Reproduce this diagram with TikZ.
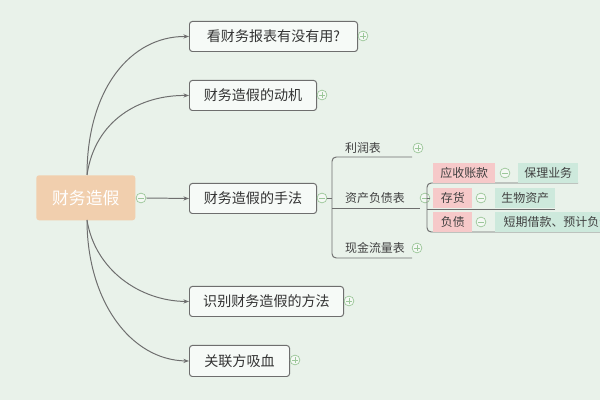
\documentclass[tikz,border=0pt]{standalone}
\usepackage{fontspec}
\setmainfont{Noto Sans CJK SC}
\usetikzlibrary{arrows.meta}
\definecolor{bg}{HTML}{E9F2EA}
\definecolor{lnc}{HTML}{6E6E6E}
\definecolor{rootc}{HTML}{F1CFAE}
\definecolor{pinkc}{HTML}{F6C9C9}
\definecolor{tealc}{HTML}{CDE9DC}
\definecolor{icc}{HTML}{9CC79A}
\begin{document}
\begin{tikzpicture}[x=0.025cm,y=-0.025cm,
  box/.style={draw=lnc,fill=white!60!bg,rounded corners=2pt,line width=0.7pt,inner sep=0,font=\fontsize{10}{12}\selectfont,text=black!80},
  tag/.style={inner sep=0,font=\fontsize{8.5}{10}\selectfont,text=black!75},
  ln/.style={draw=lnc,line width=0.7pt},
  arr/.style={ln,-{Stealth[length=4pt,width=3pt]}},
  ic/.style={circle,draw=icc,fill=white!50!bg,inner sep=0,minimum size=7pt,line width=0.5pt}]
\fill[bg] (0,0) rectangle (600,400);
\useasboundingbox (0,0) rectangle (600,400);
\clip (0,0) rectangle (600,400);
% root
\node[fill=rootc,rounded corners=2pt,text=white,font=\fontsize{12}{14}\selectfont,inner sep=0,anchor=north west,minimum width=2.475cm,minimum height=1.125cm] (root) at (36,175) {财务造假};
% main boxes
\node[box,anchor=north west,minimum width=4.2cm,minimum height=0.75cm] (b1) at (189,21) {看财务报表有没有用?};
\node[box,anchor=north west,minimum width=3.175cm,minimum height=0.75cm] (b2) at (189,80) {财务造假的动机};
\node[box,anchor=north west,minimum width=3.175cm,minimum height=0.75cm] (b3) at (189,183) {财务造假的手法};
\node[box,anchor=north west,minimum width=3.85cm,minimum height=0.75cm] (b4) at (189,286) {识别财务造假的方法};
\node[box,anchor=north west,minimum width=2.5cm,minimum height=0.775cm] (b5) at (189,345) {关联方吸血};
% icons
\node[ic] (i0) at (141,198) {}; \draw[icc,line width=0.5pt] ([xshift=-2pt]i0.center)--([xshift=2pt]i0.center);
\node[ic] (i1) at (363,36) {}; \draw[icc,line width=0.5pt] ([xshift=-2pt]i1.center)--([xshift=2pt]i1.center) ([yshift=-2pt]i1.center)--([yshift=2pt]i1.center);
\node[ic] (i2) at (322,95) {}; \draw[icc,line width=0.5pt] ([xshift=-2pt]i2.center)--([xshift=2pt]i2.center) ([yshift=-2pt]i2.center)--([yshift=2pt]i2.center);
\node[ic] (i3) at (322,198) {}; \draw[icc,line width=0.5pt] ([xshift=-2pt]i3.center)--([xshift=2pt]i3.center);
\node[ic] (i4) at (349,301) {}; \draw[icc,line width=0.5pt] ([xshift=-2pt]i4.center)--([xshift=2pt]i4.center) ([yshift=-2pt]i4.center)--([yshift=2pt]i4.center);
\node[ic] (i5) at (295,360) {}; \draw[icc,line width=0.5pt] ([xshift=-2pt]i5.center)--([xshift=2pt]i5.center) ([yshift=-2pt]i5.center)--([yshift=2pt]i5.center);
% root connectors
\coordinate (rt) at (87,175); \coordinate (rb) at (87,220);
\draw[arr] (rt) .. controls (87,90) and (130,36) .. (b1.west);
\draw[arr] (rt) .. controls (95,120) and (140,95) .. (b2.west);
\draw[arr] (i0.east) -- (b3.west);
\draw[arr] (rb) .. controls (95,270) and (140,301) .. (b4.west);
\draw[arr] (rb) .. controls (87,300) and (130,360) .. (b5.west);
% level 2
\coordinate (br) at (332,198);
\draw[ln] (i3.east) -- (br);
\node[tag] (t1) at (363,148) {利润表};
\node[tag] (t2) at (375,198) {资产负债表};
\node[tag] (t3) at (375,248) {现金流量表};
\draw[ln,rounded corners=3pt] (412,157) -- (332,157) -- (332,258) -- (412,258);
\draw[ln] (332,208) -- (420,208);
\foreach \n/\x/\y/\s in {k1/418/148/1,k2/425/198/0,k3/417/248/1}{
 \node[ic] (\n) at (\x,\y) {}; \draw[icc,line width=0.5pt] ([xshift=-2pt]\n.center)--([xshift=2pt]\n.center);
 \ifnum\s=1 \draw[icc,line width=0.5pt] ([yshift=-2pt]\n.center)--([yshift=2pt]\n.center);\fi}
% level 3
\draw[ln,rounded corners=3pt] (578,183) -- (427,183) -- (427,232) -- (600,232);
\draw[ln] (427,209) -- (555,209);
\draw[ln] (k2.east) -- (427,198);
\node[tag,fill=pinkc,anchor=north west,minimum width=1.55cm,minimum height=0.5cm] (p1) at (433,163) {应收账款};
\node[tag,fill=pinkc,anchor=north west,minimum width=0.975cm,minimum height=0.5cm] (p2) at (433,188) {存货};
\node[tag,fill=pinkc,anchor=north west,minimum width=0.975cm,minimum height=0.5cm] (p3) at (433,212) {负债};
\node[tag,fill=tealc,anchor=north west,minimum width=1.5cm,minimum height=0.5cm] (q1) at (518,163) {保理业务};
\node[tag,fill=tealc,anchor=north west,minimum width=1.5cm,minimum height=0.5cm] (q2) at (495,188) {生物资产};
\node[tag,fill=tealc,anchor=north west,inner xsep=6pt,minimum height=0.5cm] (q3) at (495,212) {短期借款、预计负债};
\foreach \n/\x/\y in {m1/505/173,m2/481/198,m3/481/222}{
 \node[ic] (\n) at (\x,\y) {}; \draw[icc,line width=0.5pt] ([xshift=-2pt]\n.center)--([xshift=2pt]\n.center);}
\end{tikzpicture}
\end{document}
